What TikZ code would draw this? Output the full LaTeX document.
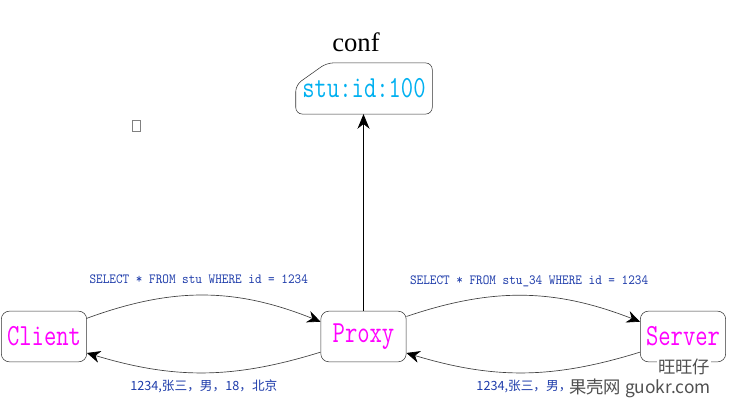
\documentclass[tikz,border=0pt]{standalone}
\usepackage{fontspec}
\usepackage{xcolor}
\usepackage{tikz}
\usetikzlibrary{shapes,arrows,positioning,calc,arrows.meta}
\newfontfamily\cjk{Noto Sans CJK SC}
\newfontfamily\timesfont{Liberation Serif}
\definecolor{hostpink}{RGB}{255,0,255}
\definecolor{confblue}{RGB}{0,176,240}
\definecolor{sqlblue}{RGB}{30,60,170}
\definecolor{wmgray}{RGB}{80,80,80}
\newcommand{\narrowtext}[2]{\scalebox{#1}[1]{#2}}

\begin{document}
\begin{tikzpicture}[x=0.75pt,y=0.75pt,
    host/.style={draw=black!80,rounded corners=6pt,minimum width=64pt,minimum height=38pt,inner sep=0pt,text=hostpink,font=\fontsize{23}{26}\selectfont\ttfamily},
    sql/.style={text=sqlblue,font=\fontsize{10.5}{12}\selectfont\ttfamily},
    reply/.style={text=sqlblue,font=\fontsize{9.5}{11}\selectfont\cjk},
    msg/.style={draw=black!75,line width=0.5pt,-{Stealth[length=10pt,width=9pt,black]}},
    watermark/.style={text=wmgray,fill=white,inner sep=0.5pt,font=\fontsize{13}{15}\selectfont\cjk}]
    \useasboundingbox (0,0) rectangle (731,408);

    % hosts
    \node[host] (client) at (44,71.5) {\narrowtext{0.78}{Client}};
    \node[host] (proxy) at (363.5,71.5) {\narrowtext{0.78}{Proxy}};
    \node[host] (server) at (683,71.5) {\narrowtext{0.78}{Server}};

    % config store
    \node (title) at (356,366) {\timesfont\fontsize{20}{24}\selectfont conf};
    \node[text=confblue,font=\fontsize{23}{26}\selectfont\ttfamily,minimum width=102pt,minimum height=38pt,inner sep=0pt] (conf) at (364,319.5) {\narrowtext{0.78}{stu:id:100}};
    \draw[black!80,rounded corners=5pt] ($(conf.north west)+(31,0)$) -- (conf.north east) -- (conf.south east) -- (conf.south west) -- ($(conf.north west)+(0,-22)$) -- cycle;
    \draw[line width=0.6pt,-{Stealth[length=11pt,width=9pt]}] (proxy.north) -- (proxy.north |- conf.south);

    % query and result, client side
    \draw[msg] (client.23) to[bend left=21] node[sql,above=5pt,xshift=-4pt] {\narrowtext{0.9}{SELECT * FROM stu WHERE id = 1234}} (proxy.161);
    \draw[msg] (proxy.200) to[bend left=17] node[reply,below=2pt] {1234,张三，男，18，北京} (client.339);

    % query and result, server side
    \draw[msg] (proxy.25) to[bend left=20] node[sql,above=3pt,xshift=4pt] {\narrowtext{0.9}{SELECT * FROM stu\_34 WHERE id = 1234}} (server.161);
    \draw[msg] (server.200) to[bend left=17] node[reply,below=2pt,xshift=20pt] {1234,张三，男，18，北京} (proxy.339);

    % stray box glyph
    \draw[gray,line width=0.7pt] (132,277) rectangle (140,288);

    % watermark
    \node[watermark] (wmname) at (684,41) {旺旺仔};
    \node[watermark] (wmsite) at (640,20) {果壳网 guokr.com};
\end{tikzpicture}
\end{document}
